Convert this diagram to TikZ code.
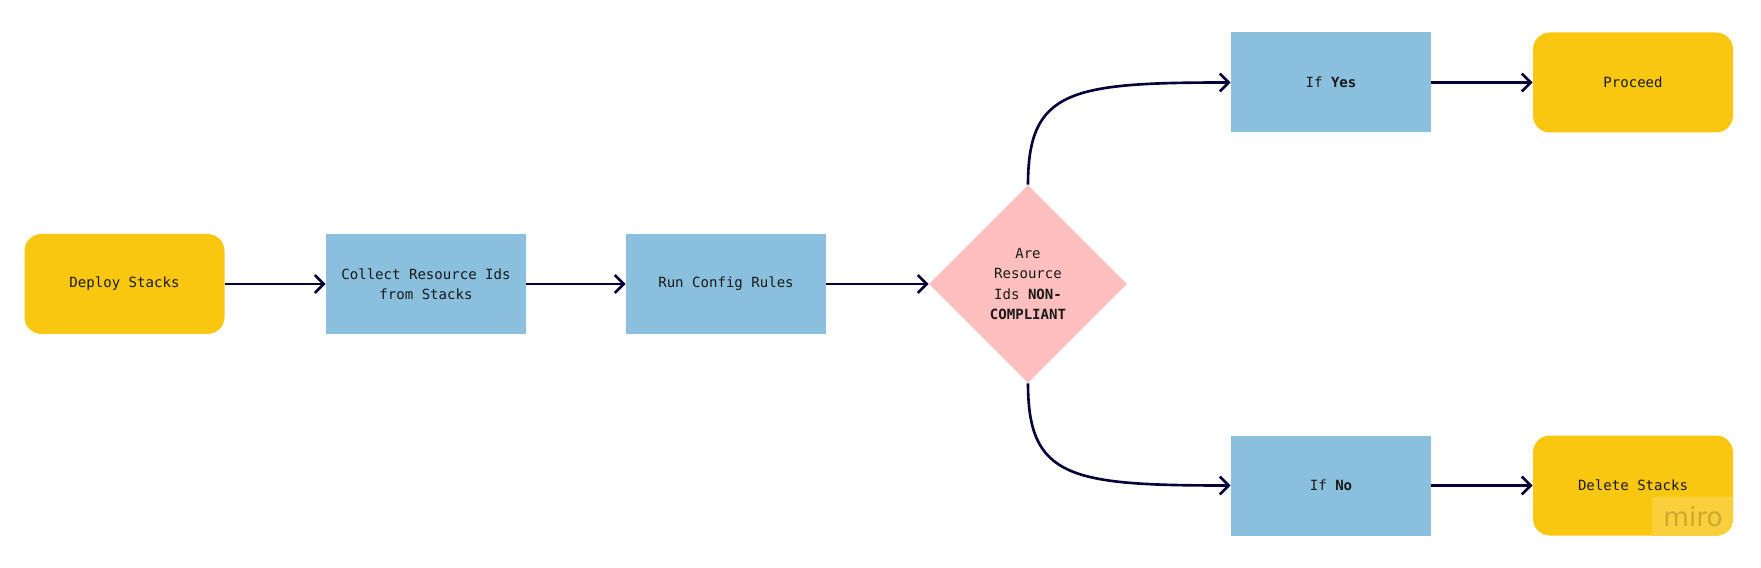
\documentclass[tikz,border=0pt]{standalone}
\usepackage{fontspec}
\setmainfont{DejaVu Sans Mono}
\setsansfont{DejaVu Sans}
\usepackage{xcolor}
\usepackage{tikz}
\usetikzlibrary{shapes.geometric}
\usetikzlibrary{arrows.meta}
\usetikzlibrary{positioning}

\definecolor{miroyellow}{HTML}{F9C710}
\definecolor{mirolight}{HTML}{FACF3C}
\definecolor{miroblue}{HTML}{8ABFDD}
\definecolor{miropink}{HTML}{FFBFBF}
\definecolor{miroink}{HTML}{050038}
\definecolor{mirotext}{HTML}{1A1A1A}

\tikzset{
	terminal/.style={rectangle,rounded corners=0.34cm,fill=miroyellow,minimum width=4cm,minimum height=2cm,align=center,text=mirotext},
	process/.style={rectangle,fill=miroblue,minimum width=4cm,minimum height=2cm,align=center,text=mirotext},
	decision/.style={diamond,aspect=1,fill=miropink,minimum width=3.96cm,minimum height=3.96cm,inner sep=0pt,align=center,text=mirotext},
	flow/.style={line width=1.5pt,draw=miroink,-{Straight Barb[length=1.8mm,width=3.6mm]}}
}

\begin{document}
\begin{tikzpicture}[font=\fontsize{8}{11.5}\selectfont]
	\useasboundingbox (0,0) rectangle (35.22,11.34);
	\node[terminal] (deploy) at (2.49,5.66) {Deploy Stacks};
	\node[process] (collect) at (8.52,5.66) {Collect Resource Ids\\from Stacks};
	\node[process] (rules) at (14.52,5.66) {Run Config Rules};
	\node[decision] (check) at (20.56,5.66) {Are\\Resource\\Ids \textbf{NON-}\\\textbf{COMPLIANT}};
	\node[process] (yes) at (26.62,9.69) {If \textbf{Yes}};
	\node[terminal] (proceed) at (32.66,9.69) {Proceed};
	\node[process] (no) at (26.62,1.63) {If \textbf{No}};
	\node[terminal] (delete) at (32.66,1.63) {Delete Stacks};
	% watermark
	\begin{scope}
		\clip[rounded corners=0.34cm] (delete.south west) rectangle (delete.north east);
		\fill[mirolight] (33.03,1.41) rectangle (delete.south east);
	\end{scope}
	\node[font=\sffamily\fontsize{15}{15}\selectfont,text=black,opacity=0.18] (miro) at (33.86,1.01) {miro};
	\draw[flow] (deploy) -- (collect);
	\draw[flow] (collect) -- (rules);
	\draw[flow] (rules) -- (check);
	\draw[flow] (check.north) .. controls +(0,1.9) and +(-3.2,0) .. (yes.west);
	\draw[flow] (check.south) .. controls +(0,-1.9) and +(-3.2,0) .. (no.west);
	\draw[flow] (yes) -- (proceed);
	\draw[flow] (no) -- (delete);
\end{tikzpicture}
\end{document}
